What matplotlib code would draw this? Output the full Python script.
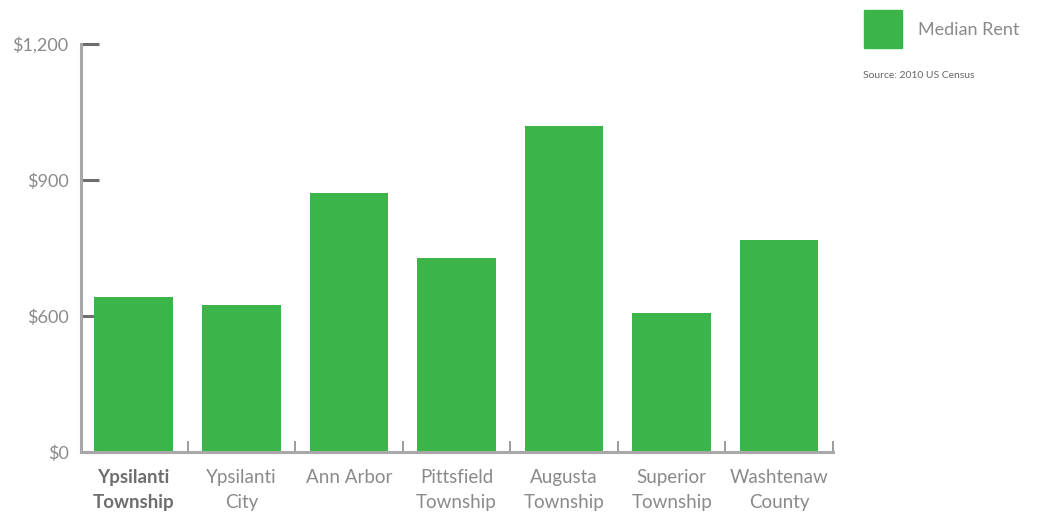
import numpy as np
import matplotlib.pyplot as plt
from matplotlib.patches import Rectangle

plt.rcParams['font.family'] = ['Liberation Sans Narrow', 'Lato', 'DejaVu Sans']

places = ['Ypsilanti\nTownship', 'Ypsilanti\nCity', 'Ann Arbor', 'Pittsfield\nTownship',
          'Augusta\nTownship', 'Superior\nTownship', 'Washtenaw\nCounty']
rent = [642, 624, 871, 727, 1020, 607, 768]
yticks = [0, 600, 900, 1200]
ylabels = ['$0', '$600', '$900', '$1,200']

green = '#3bb54a'
grey = '#8a8a8a'

# uneven axis: 0-600 gets the same room as each 300 step above it
def fwd(v):
    v = np.asarray(v, dtype=float)
    return np.where(v <= 600, v / 600.0, 1 + (v - 600) / 300.0)

def inv(u):
    u = np.asarray(u, dtype=float)
    return np.where(u <= 1, u * 600.0, 600 + (u - 1) * 300.0)

fig = plt.figure(figsize=(10.46, 5.14), dpi=100)
ax = fig.add_axes([81/1046, 62/514, 752/1046, 408/514])
ax.set_yscale('function', functions=(fwd, inv))

x = np.arange(len(places))
ax.bar(x, rent, width=0.73, color=green, zorder=2)
ax.set_xlim(-0.49, len(places) - 0.51)
ax.set_ylim(0, 1200)

for s in ['top', 'right']:
    ax.spines[s].set_visible(False)
for s in ['left', 'bottom']:
    ax.spines[s].set_color('#a8a8a8')
    ax.spines[s].set_linewidth(2.2)

ax.set_yticks(yticks)
ax.set_yticklabels(ylabels)
ax.yaxis.set_minor_locator(plt.NullLocator())
ax.tick_params(axis='y', direction='in', length=13, width=2.2, color='#6e6e6e',
               labelcolor=grey, labelsize=13, pad=9)

ax.set_xticks(x)
ax.set_xticklabels(places)
ax.set_xticks(np.arange(len(places)) + 0.5, minor=True)
ax.tick_params(axis='x', which='major', length=0, labelcolor=grey, labelsize=13.5, pad=12)
ax.tick_params(axis='x', which='minor', direction='in', length=8, width=1.2, color='#8a8a8a')
for lab in ax.get_xticklabels():
    lab.set_linespacing(1.6)
ax.get_xticklabels()[0].set_fontweight('bold')
ax.get_xticklabels()[0].set_color('#6e6e6e')

# legend box on the right
fig.patches.append(Rectangle((864/1046, 1 - 48/514), 38/1046, 38/514,
                             transform=fig.transFigure, color=green))
fig.text(918/1046, 1 - 30/514, 'Median Rent', fontsize=13, color=grey, va='center')
fig.text(863/1046, 1 - 75/514, 'Source: 2010 US Census', fontsize=7.5, color='#666666', va='center')

fig.savefig('out.png', dpi=100)
